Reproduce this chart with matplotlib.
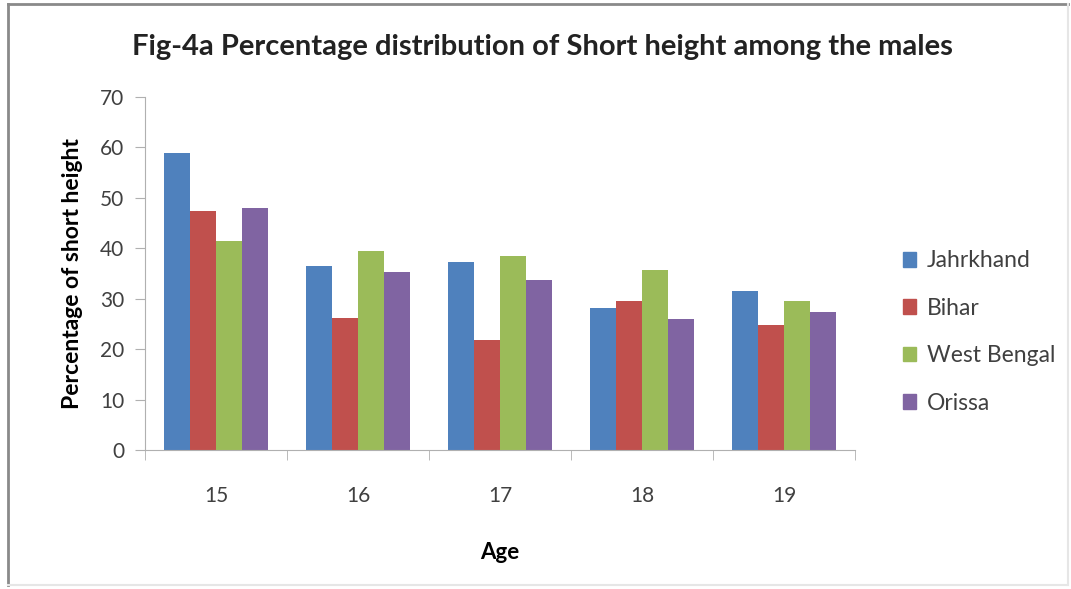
import numpy as np
import matplotlib.pyplot as plt
from matplotlib.lines import Line2D
from matplotlib.patches import Patch

ages = ['15', '16', '17', '18', '19']
states = ['Jahrkhand', 'Bihar', 'West Bengal', 'Orissa']
jahrkhand = [58.9, 36.5, 37.2, 28.2, 31.6]
bihar = [47.3, 26.2, 21.9, 29.5, 24.7]
west_bengal = [41.5, 39.4, 38.4, 35.6, 29.5]
orissa = [47.9, 35.2, 33.8, 26.0, 27.3]

colors = ['#4F81BD', '#C0504D', '#9BBB59', '#8064A2']
series = [jahrkhand, bihar, west_bengal, orissa]

plt.rcParams['font.family'] = ['Lato', 'DejaVu Sans']

W, H = 1071, 589
fig = plt.figure(figsize=(W / 100, H / 100), dpi=100)
ax = fig.add_axes([145 / W, 1 - 450 / H, (855 - 145) / W, (450 - 97) / H])

x = np.arange(len(ages))
bw = 1 / 5.5
for i, (vals, c) in enumerate(zip(series, colors)):
    ax.bar(x + (i - 1.5) * bw, vals, bw, color=c, label=states[i])

ax.set_xlim(-0.5, len(ages) - 0.5)
ax.set_ylim(0, 70)
ax.set_yticks(range(0, 71, 10))
ax.set_xticks(x)
ax.set_xticklabels(ages)
ax.set_xticks(np.arange(-0.5, len(ages)), minor=True)
for s in ['top', 'right']:
    ax.spines[s].set_visible(False)
for s in ['left', 'bottom']:
    ax.spines[s].set_color('#b0b0b0')
ax.tick_params(axis='y', colors='#b0b0b0', labelcolor='#404040', labelsize=15, length=7, pad=8)
ax.tick_params(axis='x', which='major', length=0, labelcolor='#404040', labelsize=15, pad=26)
ax.tick_params(axis='x', which='minor', length=7, color='#b0b0b0')

ax.set_ylabel('Percentage of short height', fontsize=16.5, fontweight='bold', labelpad=12)
ax.set_xlabel('Age', fontsize=16, fontweight='bold', labelpad=26)

fig.text(542 / W, 1 - 47 / H, 'Fig-4a Percentage distribution of Short height among the males',
         ha='center', va='center', fontsize=21, fontweight='bold', color='#222222')

handles = [Patch(color=c) for c in colors]
fig.legend(handles, states, loc='center left', bbox_to_anchor=(882 / W, 1 - 332 / H),
           frameon=False, fontsize=16.5, handlelength=0.6, handleheight=0.6,
           handletextpad=0.45, labelspacing=1.15, labelcolor='#404040')

# chart frame: darker on the top/left edges, faint on the right/bottom
fig.add_artist(Line2D([8 / W, 8 / W], [1 - 585 / H, 1 - 4 / H], color='#8a8a8a', lw=2))
fig.add_artist(Line2D([8 / W, 1068 / W], [1 - 4 / H, 1 - 4 / H], color='#8a8a8a', lw=2))
fig.add_artist(Line2D([1068 / W, 1068 / W], [1 - 585 / H, 1 - 4 / H], color='#e6e6e6', lw=1.5))
fig.add_artist(Line2D([8 / W, 1068 / W], [1 - 585 / H, 1 - 585 / H], color='#e6e6e6', lw=1.5))

fig.savefig('out.png', dpi=100)
